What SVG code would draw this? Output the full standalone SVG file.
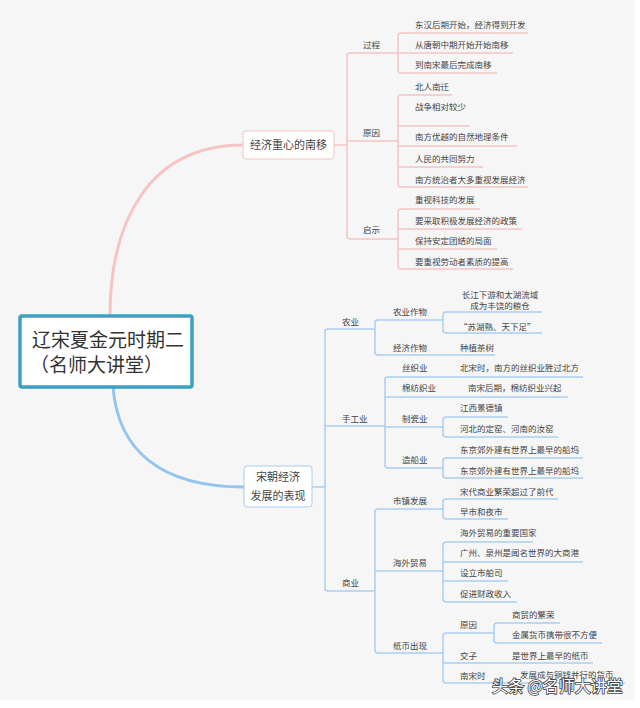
<svg xmlns="http://www.w3.org/2000/svg" width="640" height="708" viewBox="0 0 640 708">
<style>
.t{font-family:"Noto Sans CJK SC","Noto Sans",sans-serif;font-size:8.5px;fill:#444}
.b{font-family:"Noto Sans CJK SC","Noto Sans",sans-serif;font-size:11px;fill:#444;text-anchor:middle}
.r{font-family:"Noto Sans CJK SC","Noto Sans",sans-serif;font-size:19px;fill:#333}
.pk{stroke:#f4c5c5;fill:none;stroke-width:1.5}
.bl{stroke:#a9cef1;fill:none;stroke-width:1.5}
.wm{font-family:"Noto Sans CJK SC","Noto Sans",sans-serif;font-size:16px;fill:#fff;stroke:#444;stroke-width:1.6;paint-order:stroke}
</style>
<rect x="0" y="0" width="640" height="708" fill="#fff"/>
<rect x="0" y="0" width="635" height="700" fill="#f6f6f6"/>
<g id="connectors">
<path d="M110,316 C110,220 150,145 243,145" stroke="#f6c4c4" stroke-width="3" fill="none"/>
<path d="M113,387 C118,450 160,487 244,487" stroke="#92c5f1" stroke-width="3" fill="none"/>
<g class="pk">
<path d="M334,145 H347"/>
<path d="M398,53 H350 Q347,53 347,56 V236 Q347,239 350,239 H398"/>
<path d="M347,141 H398"/>
<path d="M528,33 H401 Q398,33 398,36 V70 Q398,73 401,73 H497"/>
<path d="M398,53 H513"/>
<path d="M452,95 H401 Q398,95 398,98 V184 Q398,187 401,187 H528"/>
<path d="M398,126 H470 M398,146 H517 M398,167 H483"/>
<path d="M480,209 H401 Q398,209 398,212 V266 Q398,269 401,269 H513"/>
<path d="M398,229 H522 M398,249 H497"/>
</g>
<g class="bl">
<path d="M312,487 H325"/>
<path d="M375,329 H328 Q325,329 325,332 V588 Q325,591 328,591 H375"/>
<path d="M325,426 H385"/>
<path d="M443,320 H378 Q375,320 375,323 V352 Q375,355 378,355 H495"/>
<path d="M542,312 H446 Q443,312 443,315 V330 Q443,333 446,333 H542"/>
<path d="M583,377 H388 Q385,377 385,380 V465 Q385,468 388,468 H443"/>
<path d="M385,397 H568 M385,427 H443"/>
<path d="M508,417 H446 Q443,417 443,420 V434 Q443,437 446,437 H558"/>
<path d="M583,458 H446 Q443,458 443,461 V475 Q443,478 446,478 H583"/>
<path d="M443,509 H378 Q375,509 375,512 V650 Q375,653 378,653 H443"/>
<path d="M375,571 H443"/>
<path d="M558,499 H446 Q443,499 443,502 V516 Q443,519 446,519 H508"/>
<path d="M533,542 H446 Q443,542 443,545 V599 Q443,602 446,602 H517"/>
<path d="M443,562 H583 M443,581 H508"/>
<path d="M494,633 H446 Q443,633 443,636 V680 Q443,683 446,683 H625"/>
<path d="M443,663 H593"/>
<path d="M560,623 H497 Q494,623 494,626 V640 Q494,643 497,643 H602"/>
</g>
</g>
<g id="root">
<rect x="20" y="316" width="172" height="71" rx="2" fill="#fff" stroke="#3c9fc3" stroke-width="3.5"/>
<text class="r" x="32" y="347">辽宋夏金元时期二</text>
<text class="r" x="30" y="372">（名师大讲堂）</text>
</g>
<g id="b1">
<rect x="243" y="131" width="91" height="28" rx="3" fill="#fff" stroke="#f2c4c4" stroke-width="1"/>
<text class="b" x="288.5" y="149">经济重心的南移</text>
</g>
<g id="b1-labels">
<text class="t" x="363" y="48">过程</text>
<text class="t" x="363" y="136">原因</text>
<text class="t" x="363" y="233">启示</text>
</g>
<g id="b1-leaves">
<text class="t" x="415" y="28">东汉后期开始，经济得到开发</text>
<text class="t" x="415" y="48">从唐朝中期开始开始南移</text>
<text class="t" x="415" y="68">到南宋最后完成南移</text>
<text class="t" x="415" y="90">北人南迁</text>
<text class="t" x="415" y="110">战争相对较少</text>
<text class="t" x="415" y="140">南方优越的自然地理条件</text>
<text class="t" x="415" y="162">人民的共同努力</text>
<text class="t" x="415" y="183">南方统治者大多重视发展经济</text>
<text class="t" x="415" y="203">重视科技的发展</text>
<text class="t" x="415" y="224">要采取积极发展经济的政策</text>
<text class="t" x="415" y="244">保持安定团结的局面</text>
<text class="t" x="415" y="265">要重视劳动者素质的提高</text>
</g>
<g id="b2">
<rect x="244" y="466" width="68" height="41" rx="3" fill="#fff" stroke="#a9cdee" stroke-width="1"/>
<text class="b" x="278" y="481">宋朝经济</text>
<text class="b" x="278" y="500">发展的表现</text>
</g>
<g id="b2-labels">
<text class="t" x="342" y="325">农业</text>
<text class="t" x="342" y="422">手工业</text>
<text class="t" x="342" y="586">商业</text>
<text class="t" x="393" y="315">农业作物</text>
<text class="t" x="393" y="351">经济作物</text>
<text class="t" x="402" y="371">丝织业</text>
<text class="t" x="402" y="391">棉纺织业</text>
<text class="t" x="402" y="422">制瓷业</text>
<text class="t" x="402" y="463">造船业</text>
<text class="t" x="393" y="504">市镇发展</text>
<text class="t" x="393" y="566">海外贸易</text>
<text class="t" x="393" y="649">纸币出现</text>
<text class="t" x="460" y="628">原因</text>
<text class="t" x="460" y="659">交子</text>
<text class="t" x="460" y="679">南宋时</text>
</g>
<g id="b2-leaves">
<text class="t" x="500" y="298" text-anchor="middle">长江下游和太湖流域</text>
<text class="t" x="500" y="309" text-anchor="middle">成为丰饶的粮仓</text>
<text class="t" x="459" y="330">“苏湖熟、天下足”</text>
<text class="t" x="460" y="351">种植茶树</text>
<text class="t" x="460" y="371">北宋时，南方的丝织业胜过北方</text>
<text class="t" x="468" y="391">南宋后期，棉纺织业兴起</text>
<text class="t" x="460" y="411">江西景德镇</text>
<text class="t" x="460" y="432">河北的定窑、河南的汝窑</text>
<text class="t" x="460" y="453">东京郊外建有世界上最早的船坞</text>
<text class="t" x="460" y="474">东京郊外建有世界上最早的船坞</text>
<text class="t" x="460" y="495">宋代商业繁荣超过了前代</text>
<text class="t" x="460" y="515">早市和夜市</text>
<text class="t" x="460" y="536">海外贸易的重要国家</text>
<text class="t" x="460" y="556">广州、泉州是闻名世界的大商港</text>
<text class="t" x="460" y="576">设立市舶司</text>
<text class="t" x="460" y="597">促进财政收入</text>
<text class="t" x="512" y="618">商贸的繁荣</text>
<text class="t" x="512" y="638">金属货币携带很不方便</text>
<text class="t" x="512" y="659">是世界上最早的纸币</text>
<text class="t" x="520" y="678">发展成与铜钱并行的货币</text>
</g>
<text class="wm" x="492" y="692">头条 @名师大讲堂</text>
</svg>
